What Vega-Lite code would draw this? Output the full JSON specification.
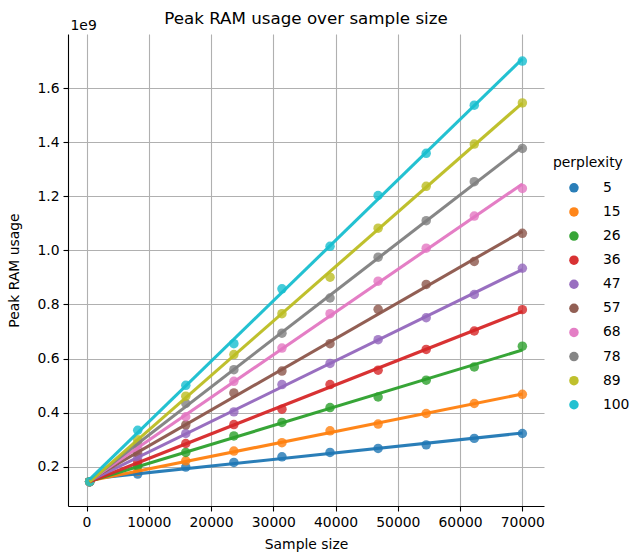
{
  "$schema": "https://vega.github.io/schema/vega-lite/v6.json",
  "autosize": {"type": "none"},
  "padding": {"left": 68, "top": 34, "right": 90, "bottom": 48},
  "width": 476,
  "height": 472,
  "title": {"text": "Peak RAM usage over sample size", "font": "DejaVu Sans", "fontSize": 16.7, "fontWeight": "normal", "color": "#000000", "anchor": "middle", "offset": -10},
  "config": {
    "font": "DejaVu Sans",
    "view": {"stroke": null},
    "axis": {"labelFont": "DejaVu Sans", "labelFontSize": 13.9, "labelColor": "#000000", "titleFont": "DejaVu Sans", "titleFontSize": 13.9, "titleFontWeight": "normal", "titleColor": "#000000", "domainColor": "#000000", "domainWidth": 1.1, "tickColor": "#000000", "tickWidth": 1.1, "tickSize": 5, "labelPadding": 4, "gridColor": "#b0b0b0", "gridWidth": 1.1},
    "legend": {"labelFont": "DejaVu Sans", "titleFont": "DejaVu Sans"}
  },
  "data": {"values": [
    {"size": 500, "ram": 1.45e8, "perplexity": 5},
    {"size": 8222, "ram": 1.73e8, "perplexity": 5},
    {"size": 15944, "ram": 1.99e8, "perplexity": 5},
    {"size": 23667, "ram": 2.16e8, "perplexity": 5},
    {"size": 31389, "ram": 2.37e8, "perplexity": 5},
    {"size": 39111, "ram": 2.53e8, "perplexity": 5},
    {"size": 46833, "ram": 2.68e8, "perplexity": 5},
    {"size": 54556, "ram": 2.81e8, "perplexity": 5},
    {"size": 62278, "ram": 3.05e8, "perplexity": 5},
    {"size": 70000, "ram": 3.23e8, "perplexity": 5},
    {"size": 500, "ram": 1.45e8, "perplexity": 15},
    {"size": 8222, "ram": 1.83e8, "perplexity": 15},
    {"size": 15944, "ram": 2.22e8, "perplexity": 15},
    {"size": 23667, "ram": 2.58e8, "perplexity": 15},
    {"size": 31389, "ram": 2.89e8, "perplexity": 15},
    {"size": 39111, "ram": 3.33e8, "perplexity": 15},
    {"size": 46833, "ram": 3.58e8, "perplexity": 15},
    {"size": 54556, "ram": 3.97e8, "perplexity": 15},
    {"size": 62278, "ram": 4.34e8, "perplexity": 15},
    {"size": 70000, "ram": 4.68e8, "perplexity": 15},
    {"size": 500, "ram": 1.45e8, "perplexity": 26},
    {"size": 8222, "ram": 2.02e8, "perplexity": 26},
    {"size": 15944, "ram": 2.53e8, "perplexity": 26},
    {"size": 23667, "ram": 3.14e8, "perplexity": 26},
    {"size": 31389, "ram": 3.64e8, "perplexity": 26},
    {"size": 39111, "ram": 4.19e8, "perplexity": 26},
    {"size": 46833, "ram": 4.58e8, "perplexity": 26},
    {"size": 54556, "ram": 5.20e8, "perplexity": 26},
    {"size": 62278, "ram": 5.69e8, "perplexity": 26},
    {"size": 70000, "ram": 6.46e8, "perplexity": 26},
    {"size": 500, "ram": 1.45e8, "perplexity": 36},
    {"size": 8222, "ram": 2.18e8, "perplexity": 36},
    {"size": 15944, "ram": 2.86e8, "perplexity": 36},
    {"size": 23667, "ram": 3.56e8, "perplexity": 36},
    {"size": 31389, "ram": 4.13e8, "perplexity": 36},
    {"size": 39111, "ram": 5.04e8, "perplexity": 36},
    {"size": 46833, "ram": 5.57e8, "perplexity": 36},
    {"size": 54556, "ram": 6.34e8, "perplexity": 36},
    {"size": 62278, "ram": 7.02e8, "perplexity": 36},
    {"size": 70000, "ram": 7.81e8, "perplexity": 36},
    {"size": 500, "ram": 1.45e8, "perplexity": 47},
    {"size": 8222, "ram": 2.36e8, "perplexity": 47},
    {"size": 15944, "ram": 3.23e8, "perplexity": 47},
    {"size": 23667, "ram": 4.03e8, "perplexity": 47},
    {"size": 31389, "ram": 5.04e8, "perplexity": 47},
    {"size": 39111, "ram": 5.82e8, "perplexity": 47},
    {"size": 46833, "ram": 6.70e8, "perplexity": 47},
    {"size": 54556, "ram": 7.51e8, "perplexity": 47},
    {"size": 62278, "ram": 8.37e8, "perplexity": 47},
    {"size": 70000, "ram": 9.34e8, "perplexity": 47},
    {"size": 500, "ram": 1.45e8, "perplexity": 57},
    {"size": 8222, "ram": 2.50e8, "perplexity": 57},
    {"size": 15944, "ram": 3.55e8, "perplexity": 57},
    {"size": 23667, "ram": 4.73e8, "perplexity": 57},
    {"size": 31389, "ram": 5.54e8, "perplexity": 57},
    {"size": 39111, "ram": 6.55e8, "perplexity": 57},
    {"size": 46833, "ram": 7.82e8, "perplexity": 57},
    {"size": 54556, "ram": 8.74e8, "perplexity": 57},
    {"size": 62278, "ram": 9.59e8, "perplexity": 57},
    {"size": 70000, "ram": 1.063e9, "perplexity": 57},
    {"size": 500, "ram": 1.45e8, "perplexity": 68},
    {"size": 8222, "ram": 2.68e8, "perplexity": 68},
    {"size": 15944, "ram": 3.85e8, "perplexity": 68},
    {"size": 23667, "ram": 5.16e8, "perplexity": 68},
    {"size": 31389, "ram": 6.39e8, "perplexity": 68},
    {"size": 39111, "ram": 7.66e8, "perplexity": 68},
    {"size": 46833, "ram": 8.86e8, "perplexity": 68},
    {"size": 54556, "ram": 1.008e9, "perplexity": 68},
    {"size": 62278, "ram": 1.127e9, "perplexity": 68},
    {"size": 70000, "ram": 1.229e9, "perplexity": 68},
    {"size": 500, "ram": 1.45e8, "perplexity": 78},
    {"size": 8222, "ram": 2.85e8, "perplexity": 78},
    {"size": 15944, "ram": 4.34e8, "perplexity": 78},
    {"size": 23667, "ram": 5.59e8, "perplexity": 78},
    {"size": 31389, "ram": 6.94e8, "perplexity": 78},
    {"size": 39111, "ram": 8.24e8, "perplexity": 78},
    {"size": 46833, "ram": 9.75e8, "perplexity": 78},
    {"size": 54556, "ram": 1.110e9, "perplexity": 78},
    {"size": 62278, "ram": 1.254e9, "perplexity": 78},
    {"size": 70000, "ram": 1.377e9, "perplexity": 78},
    {"size": 500, "ram": 1.45e8, "perplexity": 89},
    {"size": 8222, "ram": 3.00e8, "perplexity": 89},
    {"size": 15944, "ram": 4.61e8, "perplexity": 89},
    {"size": 23667, "ram": 6.15e8, "perplexity": 89},
    {"size": 31389, "ram": 7.66e8, "perplexity": 89},
    {"size": 39111, "ram": 9.01e8, "perplexity": 89},
    {"size": 46833, "ram": 1.082e9, "perplexity": 89},
    {"size": 54556, "ram": 1.237e9, "perplexity": 89},
    {"size": 62278, "ram": 1.393e9, "perplexity": 89},
    {"size": 70000, "ram": 1.545e9, "perplexity": 89},
    {"size": 500, "ram": 1.45e8, "perplexity": 100},
    {"size": 8222, "ram": 3.35e8, "perplexity": 100},
    {"size": 15944, "ram": 5.01e8, "perplexity": 100},
    {"size": 23667, "ram": 6.55e8, "perplexity": 100},
    {"size": 31389, "ram": 8.58e8, "perplexity": 100},
    {"size": 39111, "ram": 1.015e9, "perplexity": 100},
    {"size": 46833, "ram": 1.203e9, "perplexity": 100},
    {"size": 54556, "ram": 1.359e9, "perplexity": 100},
    {"size": 62278, "ram": 1.537e9, "perplexity": 100},
    {"size": 70000, "ram": 1.700e9, "perplexity": 100}
  ]},
  "layer": [
    {
      "mark": {"type": "point", "filled": true, "opacity": 0.8, "size": 90},
      "encoding": {
        "x": {"field": "size", "type": "quantitative", "scale": {"domain": [-2975, 73475], "nice": false, "zero": false}, "axis": {"title": "Sample size", "values": [0, 10000, 20000, 30000, 40000, 50000, 60000, 70000], "format": "d", "titlePadding": 9}},
        "y": {"field": "ram", "type": "quantitative", "scale": {"domain": [5.5e7, 1.8e9], "nice": false, "zero": false}, "axis": {"title": "Peak RAM usage", "values": [2e8, 4e8, 6e8, 8e8, 1e9, 1.2e9, 1.4e9, 1.6e9], "labelExpr": "format(datum.value / 1e9, '.1f')", "titlePadding": 15}},
        "color": {"field": "perplexity", "type": "nominal", "scale": {"domain": [5, 15, 26, 36, 47, 57, 68, 78, 89, 100], "range": ["#1f77b4", "#ff7f0e", "#2ca02c", "#d62728", "#9467bd", "#8c564b", "#e377c2", "#7f7f7f", "#bcbd22", "#17becf"]}, "legend": {"title": "perplexity", "orient": "none", "legendX": 485, "legendY": 122, "padding": 0, "titleFontSize": 13.9, "titleFontWeight": "normal", "titleColor": "#000000", "titlePadding": 11, "labelFontSize": 13.9, "labelColor": "#000000", "symbolType": "circle", "symbolSize": 90, "symbolOpacity": 0.8, "symbolStrokeWidth": 0, "symbolOffset": 14, "labelOffset": 22, "rowPadding": 9.1}}
      }
    },
    {
      "transform": [{"regression": "ram", "on": "size", "groupby": ["perplexity"]}],
      "mark": {"type": "line", "strokeWidth": 3.1, "opacity": 0.95},
      "encoding": {
        "x": {"field": "size", "type": "quantitative", "axis": {"orient": "top", "title": "1e9", "labels": false, "ticks": false, "domain": false, "grid": false, "titleAnchor": "start", "titleAlign": "left", "titleBaseline": "middle", "titleX": 2, "titleY": -9}},
        "y": {"field": "ram", "type": "quantitative"},
        "color": {"field": "perplexity", "type": "nominal"}
      }
    }
  ],
  "resolve": {"axis": {"x": "independent"}}
}
